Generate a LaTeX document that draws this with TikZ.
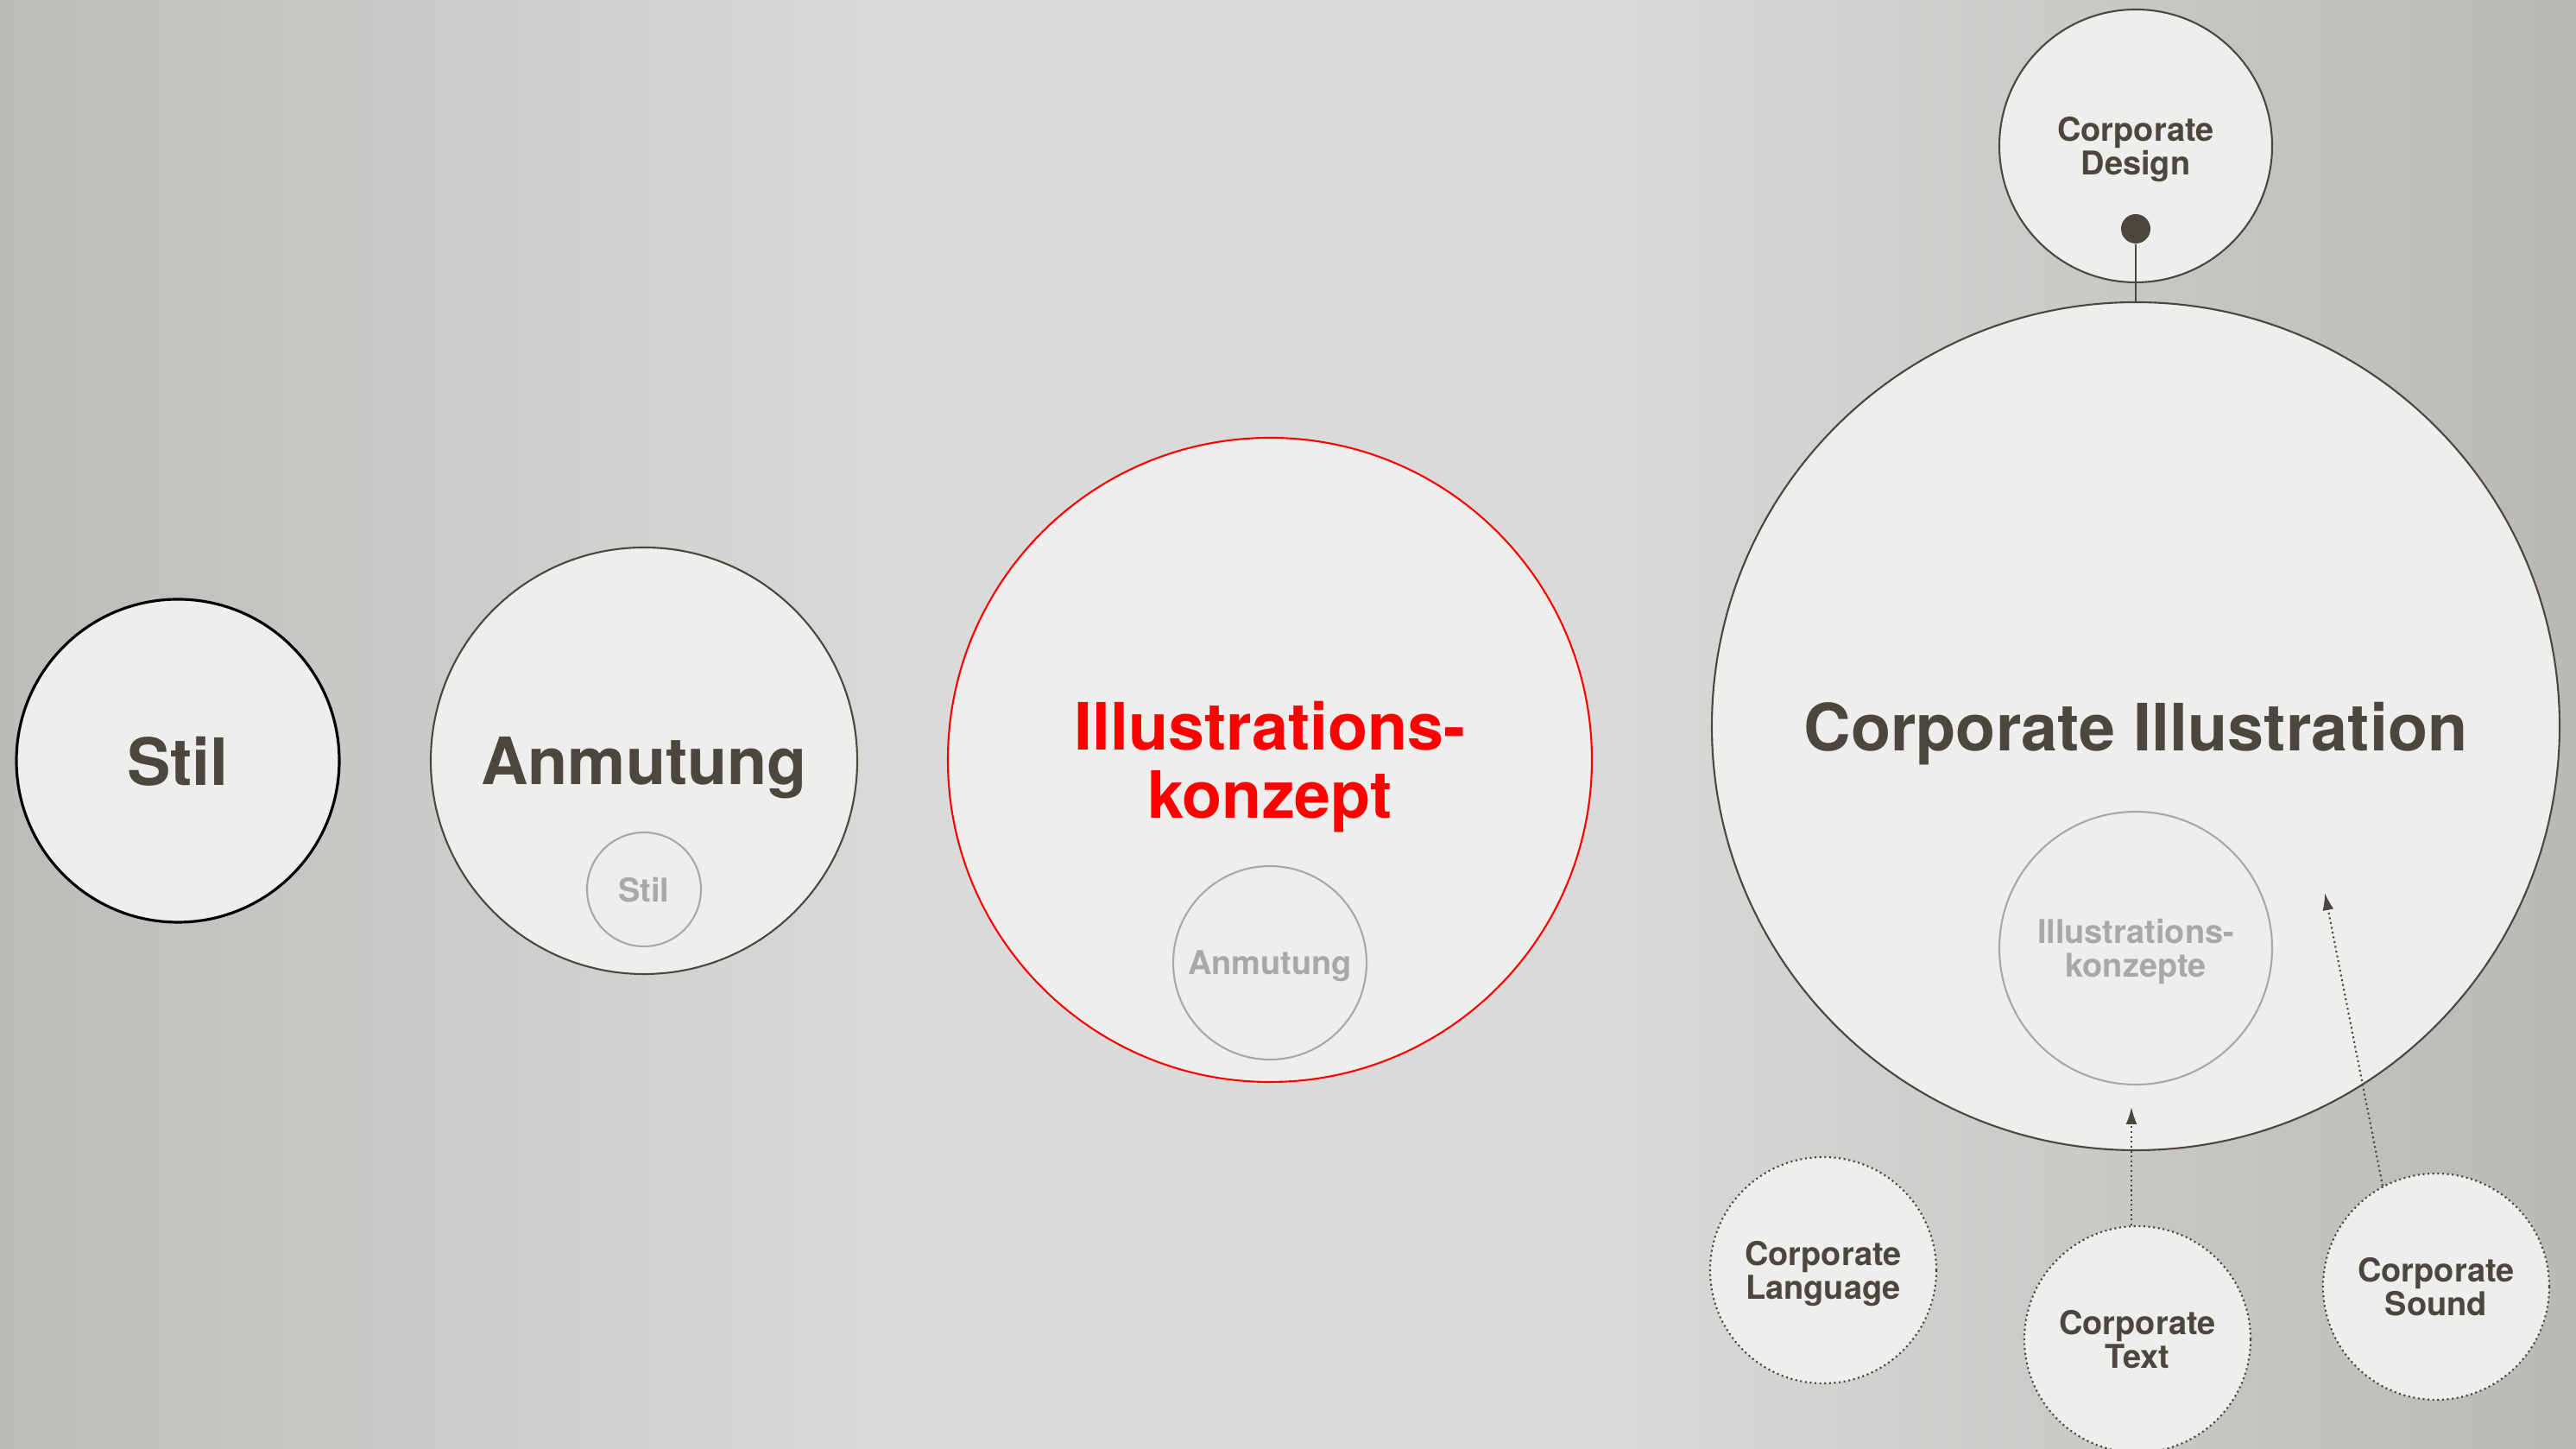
\documentclass[tikz,border=0pt]{standalone}
\usepackage{fontspec}
\setmainfont{TeX Gyre Heros}
\usepackage{tikz}
\usetikzlibrary{arrows.meta}

\definecolor{ink}{HTML}{4B473F}
\definecolor{paper}{HTML}{EEEEEC}
\definecolor{faded}{HTML}{A8A8A8}
\definecolor{signal}{HTML}{FF0000}
\definecolor{bgedge}{HTML}{BCBCB8}
\definecolor{bgdim}{HTML}{C9C9C7}
\definecolor{bgmid}{HTML}{DADADA}
\definecolor{bglight}{HTML}{D0D0CE}
\definecolor{bgright}{HTML}{BAB9B5}
\pgfdeclarehorizontalshading{backdrop}{100bp}{color(0bp)=(bgedge); color(25bp)=(bgedge); color(32.5bp)=(bgdim); color(42.5bp)=(bgmid); color(56bp)=(bgmid); color(61.5bp)=(bglight); color(75bp)=(bgright); color(100bp)=(bgright)}

\begin{document}
\begin{tikzpicture}[
    bubble/.style      = {circle, draw=ink, fill=paper, text=ink,
      line width=0.6pt, inner sep=0pt, align=center, text depth=0pt},
    big text/.style    = {font=\fontsize{21.5}{22.5}\selectfont\bfseries},
    small text/.style  = {font=\fontsize{10.8}{10.9}\selectfont\bfseries},
    inner bubble/.style = {bubble, draw=faded, text=faded, small text},
    satellite/.style   = {bubble, densely dotted, small text, minimum size=2.62cm},
    link/.style        = {draw=ink, densely dotted, line width=0.6pt,
      -{Latex[length=0.2cm,width=0.13cm]}},
  ]
  \useasboundingbox (0,0) rectangle (29.84,16.78);
  \clip (0,0) rectangle (29.84,16.78);
  \shade[shading=backdrop] (0,0) rectangle (29.84,16.78);

  \node[bubble, draw=black, line width=0.9pt, minimum size=3.74cm, big text] (stil) at (2.06,7.97) {Stil};

  \node[bubble, minimum size=4.94cm, big text] (anmutung) at (7.46,7.97) {Anmutung};
  \node[inner bubble, minimum size=1.32cm] (stil inner) at (7.46,6.48) {Stil};

  \node[bubble, draw=signal, text=signal, minimum size=7.46cm, big text] (konzept) at (14.71,7.98) {Illustrations-\\konzept};
  \node[inner bubble, minimum size=2.24cm] (anmutung inner) at (14.71,5.63) {Anmutung};

  \node[bubble, minimum size=9.82cm, big text] (ci) at (24.74,8.37) {Corporate Illustration};
  \node[inner bubble, minimum size=3.16cm] (konzepte) at (24.74,5.80) {Illustrations-\\konzepte};

  \node[bubble, minimum size=3.16cm, small text] (design) at (24.74,15.09) {Corporate\\Design};
  \node[circle, fill=ink, minimum size=0.34cm, inner sep=0pt] (pin) at (24.74,14.13) {};
  \draw[ink, line width=0.6pt] (pin) -- (ci.north);

  \node[satellite] (language) at (21.12,2.07) {Corporate\\Language};
  \node[satellite] (ctext) at (24.76,1.27) {Corporate\\Text};
  \node[satellite] (sound) at (28.22,1.88) {Corporate\\Sound};

  \coordinate (text tip) at (24.69,3.96);
  \coordinate (sound tip) at (26.93,6.44);
  \draw[link] (ctext.north -| text tip) -- (text tip);
  \draw[link] (sound.118) -- (sound tip);
\end{tikzpicture}
\end{document}
